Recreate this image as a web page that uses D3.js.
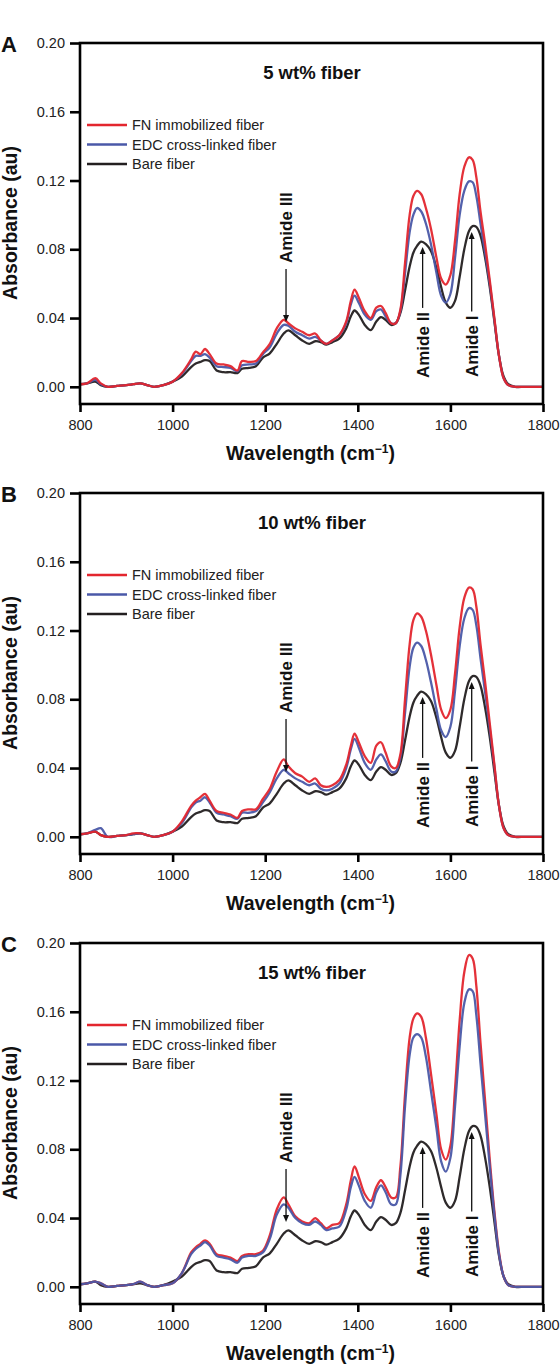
<!DOCTYPE html>
<html><head><meta charset="utf-8">
<script src="https://cdn.jsdelivr.net/npm/d3@7"></script>
<style>body{margin:0;background:#fff;} svg{display:block;}</style>
</head><body>
<svg id="chart" width="560" height="1365"></svg>
<script>
// ---------------- DATA ----------------
const wavenumbers = [800,815,833,845,860,880,900,915,930,945,960,980,1000,1020,1040,1050,1060,1070,1080,1095,
 1110,1125,1140,1150,1165,1180,1195,1210,1225,1240,1250,1265,1280,1295,1308,1320,1332,1345,1360,1375,
 1385,1393,1402,1415,1428,1440,1450,1460,1472,1482,1492,1502,1512,1520,1528,1537,1547,1558,1570,1580,
 1590,1600,1610,1620,1630,1640,1648,1656,1665,1675,1685,1695,1705,1715,1725,1740,1760,1780,1800];

const bareFiber = [0.0015,0.002,0.003,0.001,0.0,0.0005,0.001,0.0015,0.002,0.001,
 0.0,0.001,0.003,0.006,0.0115,0.0135,0.0145,0.0155,0.015,0.0095,
 0.0085,0.0085,0.008,0.0105,0.011,0.012,0.017,0.0195,0.025,0.031,
 0.0328,0.030,0.027,0.025,0.0265,0.026,0.0245,0.026,0.028,0.034,
 0.041,0.0444,0.042,0.036,0.033,0.038,0.0405,0.039,0.036,0.037,
 0.043,0.056,0.070,0.078,0.082,0.0845,0.083,0.079,0.069,0.058,
 0.049,0.046,0.050,0.064,0.080,0.0905,0.0935,0.093,0.088,0.075,
 0.058,0.038,0.018,0.006,0.0015,0,0,0,0];

const fn5 = [0.0015,0.002,0.005,0.002,0.0,0.0005,0.001,0.0015,0.002,0.001,
 0.0,0.001,0.003,0.008,0.016,0.0205,0.019,0.022,0.019,0.0135,
 0.013,0.012,0.0095,0.015,0.0145,0.015,0.020,0.025,0.034,0.039,
 0.037,0.034,0.032,0.030,0.031,0.027,0.025,0.027,0.030,0.038,
 0.050,0.0565,0.052,0.044,0.040,0.046,0.047,0.043,0.037,0.037,
 0.045,0.072,0.100,0.111,0.114,0.112,0.104,0.092,0.075,0.063,
 0.0595,0.065,0.085,0.112,0.128,0.1335,0.132,0.122,0.102,0.083,
 0.062,0.040,0.018,0.005,0.001,0,0,0,0];

const edc5 = [0.0015,0.002,0.004,0.0015,0.0,0.0005,0.001,0.0015,0.002,0.001,
 0.0,0.001,0.003,0.0075,0.015,0.018,0.018,0.019,0.017,0.012,
 0.0115,0.011,0.009,0.0125,0.013,0.0135,0.019,0.023,0.031,0.036,
 0.0355,0.032,0.030,0.028,0.029,0.027,0.025,0.027,0.030,0.037,
 0.048,0.053,0.049,0.042,0.039,0.044,0.045,0.041,0.037,0.037,
 0.044,0.066,0.090,0.100,0.104,0.102,0.095,0.083,0.066,0.053,
 0.049,0.054,0.075,0.100,0.114,0.1195,0.119,0.111,0.095,0.078,
 0.060,0.039,0.018,0.005,0.001,0,0,0,0];

const fn10 = [0.0015,0.002,0.003,0.001,0.0,0.0005,0.001,0.002,0.002,0.001,
 0.0,0.001,0.003,0.009,0.018,0.021,0.023,0.025,0.021,0.015,
 0.014,0.013,0.011,0.015,0.016,0.016,0.022,0.028,0.038,0.045,
 0.041,0.037,0.035,0.032,0.034,0.030,0.029,0.030,0.033,0.042,
 0.053,0.060,0.055,0.047,0.043,0.053,0.055,0.049,0.041,0.040,
 0.048,0.080,0.112,0.126,0.130,0.128,0.120,0.106,0.088,0.074,
 0.069,0.074,0.095,0.122,0.139,0.145,0.144,0.134,0.112,0.090,
 0.066,0.042,0.018,0.005,0.001,0,0,0,0];

const edc10 = [0.0015,0.002,0.004,0.005,0.0,0.0005,0.001,0.0015,0.002,0.001,
 0.0,0.001,0.003,0.008,0.017,0.020,0.021,0.023,0.020,0.014,
 0.013,0.012,0.0105,0.014,0.014,0.015,0.020,0.026,0.034,0.039,
 0.037,0.034,0.032,0.030,0.031,0.028,0.027,0.028,0.031,0.040,
 0.051,0.057,0.052,0.043,0.039,0.045,0.048,0.044,0.038,0.038,
 0.046,0.072,0.099,0.110,0.113,0.111,0.103,0.090,0.074,0.062,
 0.058,0.064,0.085,0.111,0.127,0.133,0.132,0.123,0.104,0.084,
 0.063,0.041,0.018,0.005,0.001,0,0,0,0];

const fn15 = [0.0015,0.002,0.003,0.002,0.0,0.0005,0.001,0.0015,0.003,0.001,
 0.0,0.001,0.002,0.008,0.020,0.023,0.025,0.027,0.025,0.019,
 0.018,0.017,0.015,0.018,0.019,0.019,0.021,0.030,0.045,0.052,
 0.048,0.041,0.038,0.037,0.040,0.037,0.034,0.036,0.037,0.048,
 0.062,0.070,0.064,0.054,0.050,0.058,0.062,0.058,0.052,0.052,
 0.070,0.112,0.145,0.156,0.159,0.157,0.145,0.124,0.100,0.080,
 0.074,0.082,0.115,0.155,0.183,0.193,0.191,0.175,0.142,0.108,
 0.074,0.044,0.020,0.006,0.001,0,0,0,0];

const edc15 = [0.0015,0.002,0.003,0.002,0.0,0.0005,0.001,0.0015,0.003,0.001,
 0.0,0.001,0.002,0.008,0.019,0.022,0.024,0.026,0.024,0.018,
 0.017,0.016,0.014,0.017,0.018,0.018,0.020,0.028,0.042,0.048,
 0.046,0.040,0.037,0.036,0.038,0.036,0.033,0.034,0.035,0.045,
 0.058,0.064,0.059,0.050,0.046,0.055,0.059,0.055,0.048,0.048,
 0.065,0.105,0.135,0.145,0.147,0.145,0.134,0.114,0.092,0.073,
 0.067,0.075,0.105,0.140,0.165,0.173,0.172,0.158,0.130,0.100,
 0.070,0.042,0.019,0.006,0.001,0,0,0,0];

const xTicks = [800,1000,1200,1400,1600,1800];
const yTicks = [0.00,0.04,0.08,0.12,0.16,0.20];
const panelLetters = ["A","B","C"];
const panelTitles = ["5 wt% fiber","10 wt% fiber","15 wt% fiber"];
const seriesNames = ["FN immobilized fiber","EDC cross-linked fiber","Bare fiber"];
const amideLabels = ["Amide III","Amide II","Amide I"];
const amideWavenumbers = [1245,1540,1646];

// ---------------- DRAW ----------------
const svg = d3.select("#chart");
const FONT = "'Liberation Sans', Arial, Helvetica, sans-serif";
const RED = "#e3262e", BLUE = "#4a58a8", BLACK = "#231f20";

const panels = [
  {fn: fn5, edc: edc5, bare: bareFiber, order: ["bare","edc","fn"]},
  {fn: fn10, edc: edc10, bare: bareFiber, order: ["bare","edc","fn"]},
  {fn: fn15, edc: edc15, bare: bareFiber, order: ["bare","fn","edc"]}
];

const PLOT_H = 361, LEFT = 80, RIGHT = 543;
panels.forEach((p, i) => {
  const top = 43 + i * 450;
  const g = svg.append("g");
  const x = d3.scaleLinear().domain([800, 1800]).range([LEFT, RIGHT]);
  const y = d3.scaleLinear().domain([-0.01, 0.20]).range([top + PLOT_H, top]);

  // curves
  const colorOf = {fn: RED, edc: BLUE, bare: BLACK};
  const line = d3.line().x((d, k) => x(wavenumbers[k])).y(d => y(d)).curve(d3.curveCatmullRom.alpha(0.5));
  p.order.forEach(key => {
    g.append("path").attr("d", line(p[key])).attr("fill", "none")
      .attr("stroke", colorOf[key]).attr("stroke-width", 2.3)
      .attr("stroke-linejoin", "round").attr("stroke-opacity", 0.95);
  });

  // frame
  g.append("rect").attr("x", LEFT).attr("y", top).attr("width", RIGHT - LEFT).attr("height", PLOT_H)
    .attr("fill", "none").attr("stroke", "#000").attr("stroke-width", 2.6);

  // axes
  const ya = g.append("g").attr("transform", `translate(${LEFT},0)`)
    .call(d3.axisLeft(y).tickValues(yTicks).tickSize(10).tickPadding(5).tickFormat(d3.format(".2f")));
  const xa = g.append("g").attr("transform", `translate(0,${top + PLOT_H})`)
    .call(d3.axisBottom(x).tickValues(xTicks).tickSize(8).tickPadding(7.5).tickFormat(d3.format("d")));
  [ya, xa].forEach(a => {
    a.select(".domain").remove();
    a.selectAll(".tick line").attr("stroke", "#000").attr("stroke-width", 2.6);
    a.selectAll(".tick text").attr("fill", "#222").style("font-family", FONT).style("font-size", "14.5px");
  });

  // axis titles
  const xt = g.append("text").attr("x", (LEFT + RIGHT) / 2 - 1).attr("y", top + 417)
    .attr("text-anchor", "middle").style("font-family", FONT).style("font-size", "19.5px")
    .style("font-weight", "bold").attr("fill", "#111");
  xt.append("tspan").text("Wavelength (cm");
  xt.append("tspan").text("\u22121").attr("dy", -7).style("font-size", "12px");
  xt.append("tspan").text(")").attr("dy", 7);

  g.append("text").attr("transform", `translate(17,${top + 180}) rotate(-90)`)
    .attr("text-anchor", "middle").style("font-family", FONT).style("font-size", "19.5px")
    .style("font-weight", "bold").attr("fill", "#111").text("Absorbance (au)");

  // panel letter
  g.append("text").attr("x", 1).attr("y", top + 9).style("font-family", FONT)
    .style("font-size", "22px").style("font-weight", "bold").attr("fill", "#111").text(panelLetters[i]);

  // panel title
  g.append("text").attr("x", 312).attr("y", top + 36).attr("text-anchor", "middle")
    .style("font-family", FONT).style("font-size", "18.5px").style("font-weight", "bold")
    .attr("fill", "#111").text(panelTitles[i]);

  // legend
  const legColors = [RED, BLUE, BLACK];
  seriesNames.forEach((name, k) => {
    const ly = top + 82 + k * 19.5;
    g.append("line").attr("x1", 87).attr("x2", 127).attr("y1", ly).attr("y2", ly)
      .attr("stroke", legColors[k]).attr("stroke-width", 2.5);
    g.append("text").attr("x", 132).attr("y", ly + 5).style("font-family", FONT)
      .style("font-size", "14.5px").attr("fill", "#222").text(name);
  });

  // annotations
  const annFont = s => s.style("font-family", FONT).style("font-size", "17px").style("font-weight", "bold").attr("fill", "#111");
  const arrow = (xx, y1, y2) => {
    const dir = y2 > y1 ? 1 : -1;
    g.append("line").attr("x1", xx).attr("x2", xx).attr("y1", y1).attr("y2", y2 - dir * 5)
      .attr("stroke", "#111").attr("stroke-width", 1.3);
    g.append("path").attr("d", `M${xx},${y2} L${xx - 3},${y2 - dir * 7} L${xx + 3},${y2 - dir * 7} Z`).attr("fill", "#111");
  };
  // Amide III (text above, arrow down)
  {
    const ax = x(amideWavenumbers[0]);
    const tb = y(0.072);
    annFont(g.append("text").attr("transform", `translate(${ax + 6},${tb}) rotate(-90)`)).text(amideLabels[0]);
    arrow(ax, tb + 6, y(0.0377));
  }
  // Amide II & I (text below, arrow up)
  [[1, 0.0051, 0.0813], [2, 0.0057, 0.090]].forEach(([k, tbv, tipv]) => {
    const ax = x(amideWavenumbers[k]);
    const tb = y(tbv);
    const t = annFont(g.append("text").attr("transform", `translate(${ax + 6},${tb}) rotate(-90)`)).text(amideLabels[k]);
    const len = t.node().getComputedTextLength();
    arrow(ax, tb - len - 4, y(tipv));
  });
});
</script>
</body></html>
